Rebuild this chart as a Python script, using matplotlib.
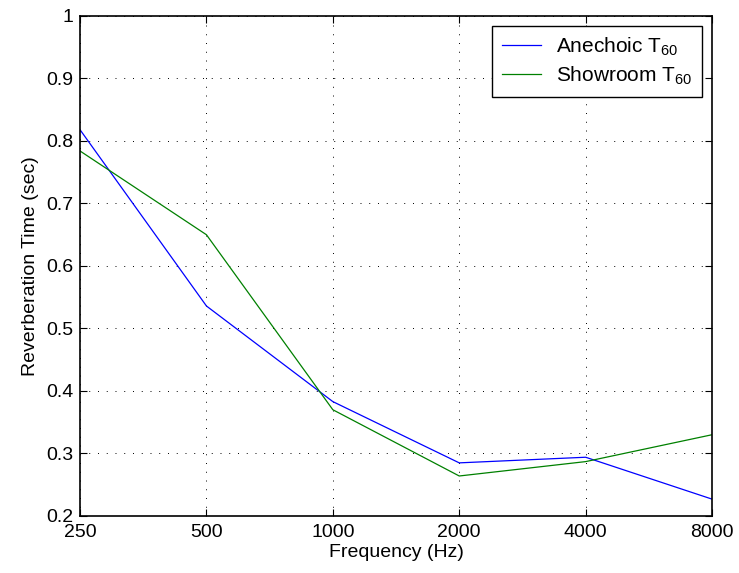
import matplotlib
matplotlib.use('Agg')
import matplotlib.pyplot as plt
from matplotlib.ticker import NullLocator, FixedLocator, FixedFormatter

plt.rcParams['font.family'] = ['Liberation Sans', 'DejaVu Sans']
plt.rcParams['mathtext.fontset'] = 'custom'
plt.rcParams['mathtext.rm'] = 'Liberation Sans'

freqs = [250, 500, 1000, 2000, 4000, 8000]
anechoic = [0.818, 0.536, 0.383, 0.285, 0.294, 0.227]
showroom = [0.784, 0.650, 0.370, 0.264, 0.287, 0.330]
xtick_labels = ['250', '500', '1000', '2000', '4000', '8000']
yticks = [0.2, 0.3, 0.4, 0.5, 0.6, 0.7, 0.8, 0.9, 1.0]
ytick_labels = ['0.2', '0.3', '0.4', '0.5', '0.6', '0.7', '0.8', '0.9', '1']

fig = plt.figure(figsize=(7.39, 5.73), dpi=100)
ax = fig.add_axes([0.1083, 0.0995, 0.8552, 0.8726])

ax.plot(freqs, anechoic, color='blue', lw=0.9, label='Anechoic T$_{60}$')
ax.plot(freqs, showroom, color='#008000', lw=0.9, label='Showroom T$_{60}$')

ax.set_xscale('log')
ax.set_xlim(250, 8000)
ax.set_ylim(0.2, 1.0)
ax.xaxis.set_major_locator(FixedLocator(freqs))
ax.xaxis.set_major_formatter(FixedFormatter(xtick_labels))
ax.xaxis.set_minor_locator(NullLocator())
ax.set_yticks(yticks)
ax.set_yticklabels(ytick_labels)

ax.grid(True, color='black', linestyle=(0, (1, 8)), lw=0.7)
ax.tick_params(direction='in', length=5, labelsize=14, top=True, right=True)
ax.tick_params(axis='x', pad=6)
ax.tick_params(axis='y', pad=5)
for s in ax.spines.values():
    s.set_linewidth(1.2)

ax.set_xlabel('Frequency (Hz)', fontsize=14, labelpad=2)
ax.set_ylabel('Reverberation Time (sec)', fontsize=14, labelpad=5)

leg = ax.legend(loc='upper right', fontsize=15, fancybox=False, framealpha=1,
                edgecolor='black', borderaxespad=0.5, handlelength=1.9,
                handletextpad=0.7, labelspacing=0.3, borderpad=0.45)
leg.get_frame().set_linewidth(1.0)

plt.savefig('out.png', dpi=100)
